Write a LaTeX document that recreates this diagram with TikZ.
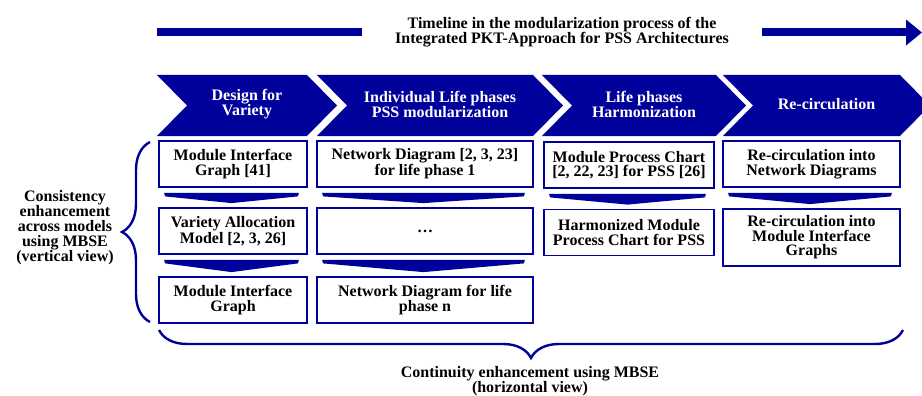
\documentclass[tikz,border=0pt]{standalone}
\usepackage{fontspec}
\setmainfont{Liberation Serif}
\usepackage{tikz}
\usetikzlibrary{calc,decorations.pathreplacing,arrows.meta}
\definecolor{pktblue}{RGB}{0,0,155}
\newcommand{\pktfont}{\bfseries\fontsize{16}{14.5}\selectfont}
\newcommand{\pktfontwide}{\bfseries\fontsize{16}{15}\selectfont}
\tikzset{
  phase/.style={text=white, font=\pktfontwide, align=center},
  model/.style={draw=pktblue, line width=1.8pt, fill=white, inner sep=0pt, align=center, font=\pktfont, minimum height=46pt},
  flow/.style={fill=pktblue},
  note/.style={font=\pktfontwide, align=center},
  curly/.style={draw=pktblue, line width=2.4pt, decorate, decoration={brace, amplitude=28pt}},
  timeline/.style={draw=pktblue, line width=8pt, -{Triangle[length=16pt,width=25pt]}}
}

\begin{document}
\begin{tikzpicture}[x=1pt, y=-1pt]
    \useasboundingbox (0,0) rectangle (922,396);
    \clip (0,0) rectangle (922,396);

    % timeline
    \coordinate (tstart) at (157,32.5);
    \coordinate (tend) at (922,32.5);
    \draw[timeline] (tstart) -- (tend);
    \node[note, fill=white, minimum width=400pt] (timeline) at (562,32) {Timeline in the modularization process of the\\Integrated PKT-Approach for PSS Architectures};

    % phases
    \foreach \xl/\xr/\nm/\txt in {157/307/dfv/{Design for\\Variety}, 317/533/ilp/{Individual Life phases\\PSS modularization}, 542/716/lph/{Life phases\\Harmonization}, 723/900/rec/{Re-circulation}} {
      \fill[pktblue] (\xl,75) -- (\xr,75) -- (\xr+30,105.5) -- (\xr,136) -- (\xl,136) -- (\xl+30,105.5) -- cycle;
      \node[phase] (\nm) at ({(\xl+\xr+30)/2},104) {\txt};
    }

    % models
    \node[model, minimum width=148pt] (mig) at (233,164) {Module Interface\\Graph [41]};
    \node[model, minimum width=148pt] (vam) at (233,231) {Variety Allocation\\Model [2, 3, 26]};
    \node[model, minimum width=148pt] (migb) at (233,300) {Module Interface\\Graph};

    \node[model, minimum width=216pt] (nd1) at (425,164) {Network Diagram [2, 3, 23]\\for life phase 1};
    \node[model, minimum width=216pt] (ndots) at (425,231) {\ldots};
    \node[model, minimum width=216pt] (ndn) at (425,300) {Network Diagram for life\\phase n};

    \node[model, minimum width=170pt] (mpc) at (629,165) {Module Process Chart\\{}[2, 22, 23] for PSS [26]};
    \node[model, minimum width=170pt] (hmpc) at (629,232.5) {Harmonized Module\\Process Chart for PSS};

    \node[model, minimum width=177pt] (rcnd) at (811.5,164) {Re-circulation into\\Network Diagrams};
    \node[model, minimum width=177pt, minimum height=57pt] (rcmig) at (811.5,237.5) {Re-circulation into\\Module Interface\\Graphs};

    % flow between models
    \foreach \a/\b in {mig/vam, vam/migb, nd1/ndots, ndots/ndn, mpc/hmpc, rcnd/rcmig}
      \fill[flow] ($(\a.south west)+(6,5)$) -- ($(\a.south east)+(-9,5)$) -- ($(\a.south east)+(-10,8.5)$)
        -- ($(\b.north)+(-1.5,-4)$) -- ($(\a.south west)+(7,8.5)$) -- cycle;

    % braces
    \coordinate (vtop) at (150,142);
    \coordinate (vbot) at (150,322);
    \draw[curly] (vbot) -- (vtop);
    \coordinate (hleft) at (159,330);
    \coordinate (hright) at (903,330);
    \draw[curly] (hright) -- (hleft);

    \node[note] (vert) at (65,228) {Consistency\\enhancement\\across models\\using MBSE\\(vertical view)};
    \node[note] (horiz) at (530,381.5) {Continuity enhancement using MBSE\\(horizontal view)};
\end{tikzpicture}
\end{document}
